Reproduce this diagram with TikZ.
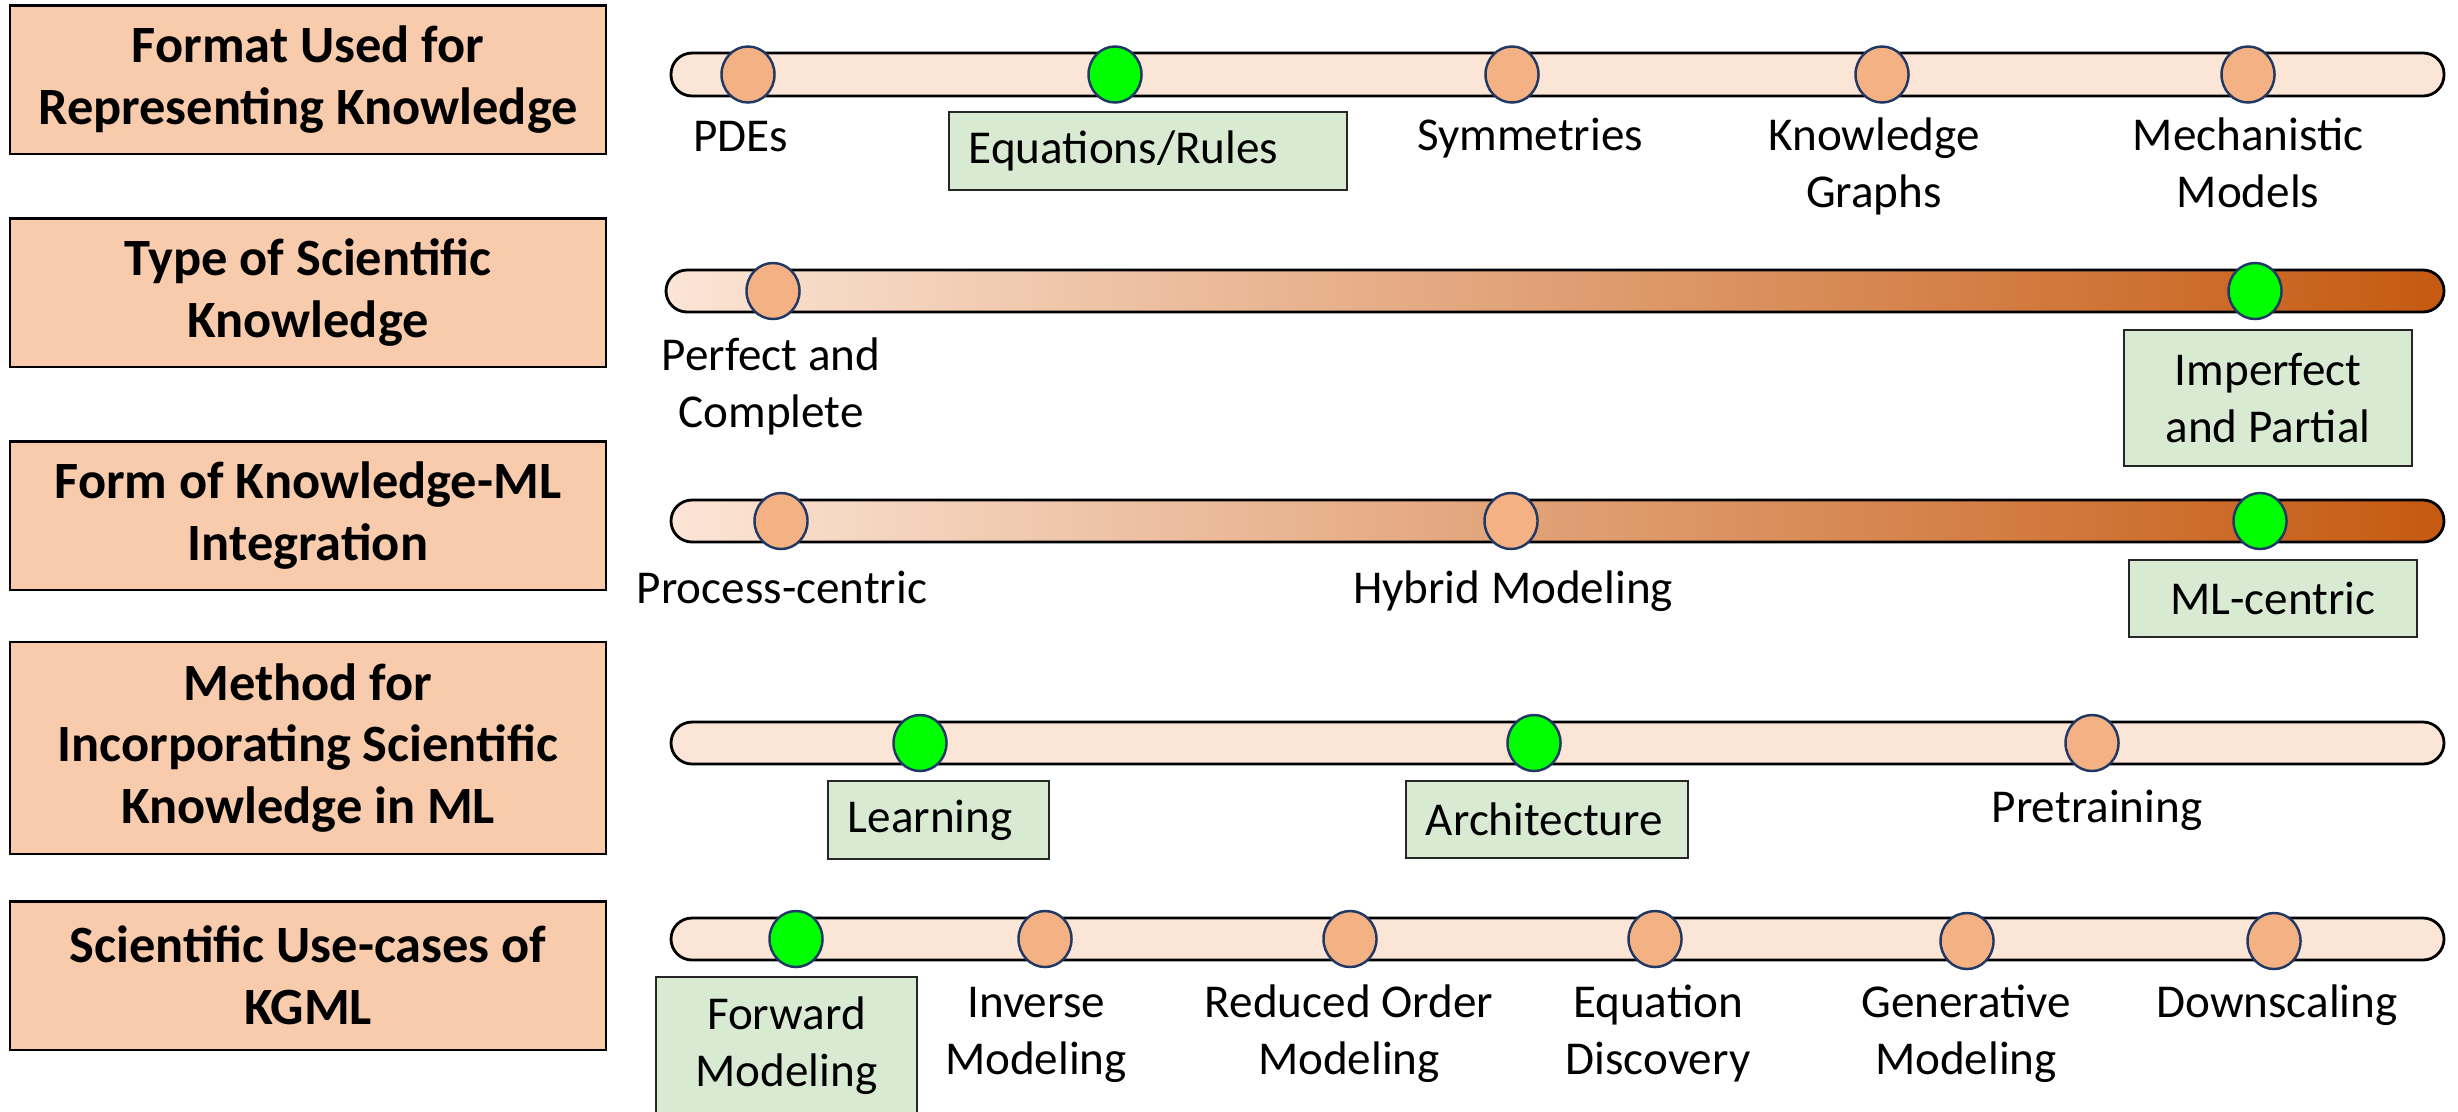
\documentclass[tikz,border=0pt]{standalone}
\usepackage{fontspec}
\setmainfont{Carlito}
\usetikzlibrary{shapes.geometric}

\definecolor{topicfill}{HTML}{F8CBAD}
\definecolor{tubefill}{HTML}{FBE5D6}
\definecolor{dotfill}{HTML}{F4B183}
\definecolor{deeporange}{HTML}{C55A11}
\definecolor{hitgreen}{HTML}{00FF00}
\definecolor{pickfill}{HTML}{D9EAD3}
\definecolor{dotline}{HTML}{203864}

\newcommand{\lblsize}{\fontsize{13.4}{16.2}\selectfont}
\newcommand{\topicsize}{\fontsize{14.9}{17.6}\selectfont\bfseries}

\tikzset{
  topic/.style={draw=black, fill=topicfill, line width=0.6pt, minimum width=5.96cm,
    minimum height=1.48cm, align=center, font=\topicsize, inner sep=0pt},
  tube/.style={draw=black, line width=0.8pt, rounded corners=0.21cm},
  dot/.style={ellipse, draw=dotline, fill=dotfill, line width=0.7pt, inner sep=0pt,
    minimum width=0.53cm, minimum height=0.56cm},
  hit/.style={dot, fill=hitgreen},
  lbl/.style={anchor=base, align=center, font=\lblsize, inner sep=0pt},
  pick/.style={draw=black!85, fill=pickfill, line width=0.6pt, align=center,
    font=\lblsize, inner sep=0pt},
  pickl/.style={pick, align=left, inner xsep=0.2cm}
}

\begin{document}
\begin{tikzpicture}[x=0.01cm, y=-0.01cm]
  \useasboundingbox (0,0) rectangle (2458,1111);

  \node[topic] (format) at (308,79.5) {Format Used for\\Representing Knowledge};
  \node[topic] (kind) at (308,292.5) {Type of Scientific\\Knowledge};
  \node[topic] (form) at (308,515.5) {Form of Knowledge-ML\\Integration};
  \node[topic, minimum height=2.12cm] (method) at (308,748) {Method for\\Incorporating Scientific\\Knowledge in ML};
  \node[topic] (usecase) at (308,975.5) {Scientific Use-cases of\\KGML};

  \filldraw[tube, fill=tubefill] (671,53) rectangle (2444,96);
  \node[dot] (pde) at (748,74.5) {};
  \node[hit] (eqn) at (1115,74.5) {};
  \node[dot] (sym) at (1512,74.5) {};
  \node[dot] (kg) at (1882,74.5) {};
  \node[dot] (mech) at (2248,74.5) {};
  \node[lbl] (lpde) at (741,151) {PDEs};
  \node[pickl, text width=3.58cm, minimum height=0.78cm] (leqn) at (1148,151) {Equations/Rules};
  \node[lbl] (lsym) at (1530,150) {Symmetries};
  \node[lbl] (lkg) at (1874,207) {Knowledge\\Graphs};
  \node[lbl] (lmech) at (2248,207) {Mechanistic\\Models};

  \draw[tube, left color=tubefill, middle color=dotfill, right color=deeporange] (666,270) rectangle (2444,312);
  \node[dot] (perfect) at (773,291) {};
  \node[hit] (imperfect) at (2255,291) {};
  \node[lbl] (lperfect) at (771,427) {Perfect and\\Complete};
  \node[pick, minimum width=2.88cm, minimum height=1.36cm] (limperfect) at (2268,398) {Imperfect\\and Partial};

  \draw[tube, left color=tubefill, middle color=dotfill, right color=deeporange] (671,500) rectangle (2444,542);
  \node[dot] (process) at (781,521) {};
  \node[dot] (hybrid) at (1511,521) {};
  \node[hit] (mlc) at (2260,521) {};
  \node[lbl] (lprocess) at (782,603) {Process-centric};
  \node[lbl] (lhybrid) at (1513,603) {Hybrid Modeling};
  \node[pick, minimum width=2.88cm, minimum height=0.77cm] (lmlc) at (2273,598.5) {ML-centric};

  \filldraw[tube, fill=tubefill] (671,722) rectangle (2444,764);
  \node[hit] (learn) at (920,743) {};
  \node[hit] (arch) at (1534,743) {};
  \node[dot] (pretrain) at (2092,743) {};
  \node[pickl, text width=1.81cm, minimum height=0.78cm] (llearn) at (938.5,820) {Learning};
  \node[pickl, text width=2.42cm, minimum height=0.77cm] (larch) at (1547,819.5) {Architecture};
  \node[lbl] (lpretrain) at (2097,822) {Pretraining};

  \filldraw[tube, fill=tubefill] (671,918) rectangle (2444,960);
  \node[hit] (fwd) at (796,939) {};
  \node[dot] (inv) at (1045,939) {};
  \node[dot] (rom) at (1350,939) {};
  \node[dot] (eqd) at (1655,939) {};
  \node[dot] (gen) at (1967,941) {};
  \node[dot] (down) at (2274,941) {};
  \node[pick, minimum width=2.61cm, minimum height=1.38cm] (lfwd) at (786.5,1046) {Forward\\Modeling};
  \node[lbl] (linv) at (1036,1074) {Inverse\\Modeling};
  \node[lbl] (lrom) at (1349,1074) {Reduced Order\\Modeling};
  \node[lbl] (leqd) at (1658,1074) {Equation\\Discovery};
  \node[lbl] (lgen) at (1966,1074) {Generative\\Modeling};
  \node[lbl] (ldown) at (2277,1017) {Downscaling};
\end{tikzpicture}
\end{document}
